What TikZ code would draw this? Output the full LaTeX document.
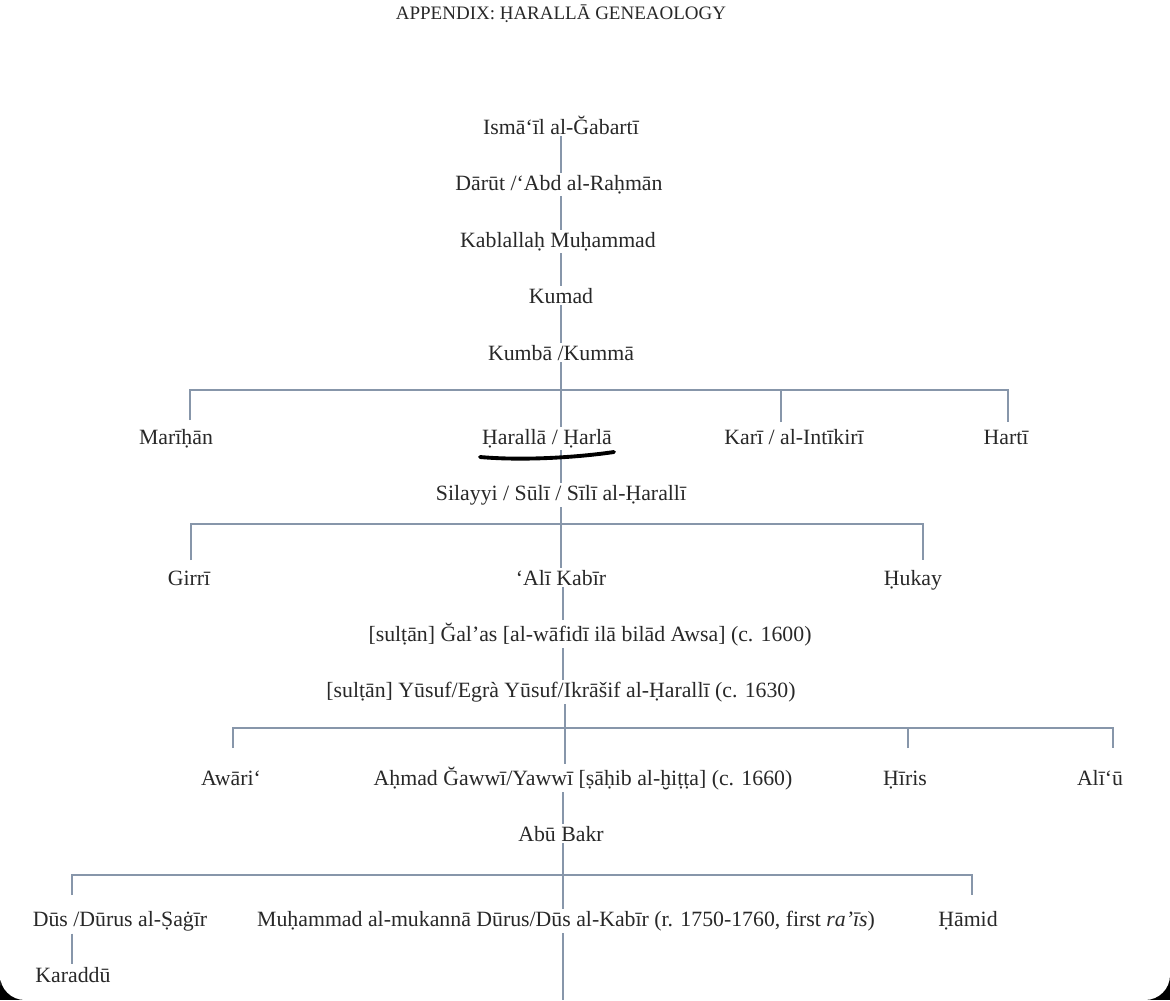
\documentclass[tikz,border=0pt]{standalone}
\usepackage{fontspec}
\setmainfont{Liberation Serif}
\usetikzlibrary{backgrounds}
\definecolor{linec}{RGB}{135,150,170}
\definecolor{txt}{RGB}{40,40,40}
\begin{document}
\begin{tikzpicture}[x=0.01cm,y=-0.01cm,
  conn/.style={draw=linec, line width=0.4pt},
  person/.style={anchor=base, inner sep=0.6pt, fill=white, text=txt, font=\fontsize{6.2}{7}\selectfont},
  titlestyle/.style={anchor=base, inner sep=0pt, text=txt, font=\fontsize{5.4}{7}\selectfont},
  pen/.style={draw=black, line width=1.1pt, line cap=round}]
\useasboundingbox (0,0) rectangle (1170,1000);

\node[titlestyle] (title) at (561,19) {APPENDIX: ḤARALLĀ GENEAOLOGY};

% people (y = baseline)
\node[person] (ismail) at (561,134) {Ismā‘īl al-Ğabartī};
\node[person] (darut)  at (559,190) {Dārūt /‘Abd al-Raḥmān};
\node[person] (kabl)   at (558,247) {Kablallaḥ Muḥammad};
\node[person] (kumad)  at (561,303) {Kumad};
\node[person] (kumba)  at (561,360) {Kumbā /Kummā};

\node[person] (mari)   at (176,444) {Marīḥān};
\node[person] (haral)  at (547,444) {Ḥarallā / Ḥarlā};
\node[person] (kari)   at (794,444) {Karī / al-Intīkirī};
\node[person] (harti)  at (1006,444) {Hartī};

\node[person] (sil)    at (561,500) {Silayyi / Sūlī / Sīlī al-Ḥarallī};

\node[person] (girri)  at (189,585) {Girrī};
\node[person] (ali)    at (561,585) {‘Alī Kabīr};
\node[person] (hukay)  at (913,585) {Ḥukay};

\node[person] (galas)  at (590,641) {[sulṭān] Ğal’as [al-wāfidī ilā bilād Awsa] (c. 1600)};
\node[person] (yusuf)  at (561,697) {[sulṭān] Yūsuf/Egrà Yūsuf/Ikrāšif al-Ḥarallī (c. 1630)};

\node[person] (awari)  at (231,785) {Awāri‘};
\node[person] (ahmad)  at (583,785) {Aḥmad Ğawwī/Yawwī [ṣāḥib al-ḫiṭṭa] (c. 1660)};
\node[person] (hiris)  at (905,785) {Ḥīris};
\node[person] (aliu)   at (1100,785) {Alī‘ū};

\node[person] (abu)    at (561,841) {Abū Bakr};

\node[person] (dus)    at (120,926) {Dūs /Dūrus al-Ṣaġīr};
\node[person] (muh)    at (566,926) {Muḥammad al-mukannā Dūrus/Dūs al-Kabīr (r. 1750-1760, first \textit{ra’īs})};
\node[person] (hamid)  at (968,926) {Ḥāmid};

\node[person] (kar)    at (73,982) {Karaddū};

% spine x positions and bar points
\coordinate (spa) at (561,0);
\coordinate (spb) at (563,0);
\coordinate (spc) at (565,0);
\coordinate (kx)  at (72,0);
\coordinate (bottom) at (563,1000);
\coordinate (bar1) at (561,390);
\coordinate (bar2) at (561,524);
\coordinate (bar3) at (565,728);
\coordinate (bar4) at (563,875);
\coordinate (d1a) at (190,420);
\coordinate (d1b) at (781,422);
\coordinate (d1c) at (1008,422);
\coordinate (d2a) at (191,560);
\coordinate (d2b) at (923,560);
\coordinate (d3a) at (233,748);
\coordinate (d3b) at (908,748);
\coordinate (d3c) at (1113,748);
\coordinate (d4a) at (72,895);
\coordinate (d4b) at (972,895);

\begin{scope}[on background layer]
  \fill[black] (0,0) rectangle (1170,1000);
  \fill[white] (0,1000) [sharp corners] -- (0,0) -- (1170,0) [rounded corners=0.25cm] -- (1170,1000) -- (0,1000) -- cycle;
  % spine
  \draw[conn] (ismail.center -| spa) -- (darut.center -| spa) -- (kabl.center -| spa)
     -- (kumad.center -| spa) -- (kumba.center -| spa) -- (haral.center -| spa)
     -- (sil.center -| spa) -- (ali.center -| spa);
  \draw[conn] (ali.center -| spb) -- (galas.center -| spb) -- (yusuf.center -| spb);
  \draw[conn] (yusuf.center -| spc) -- (ahmad.center -| spc);
  \draw[conn] (ahmad.center -| spb) -- (abu.center -| spb) -- (muh.center -| spb) -- (bottom);
  % sibling bars
  \draw[conn] (d1a) |- (bar1) -| (d1c);
  \draw[conn] (d1b) -- (d1b |- bar1);
  \draw[conn] (d2a) |- (bar2) -| (d2b);
  \draw[conn] (d3a) |- (bar3) -| (d3c);
  \draw[conn] (d3b) -- (d3b |- bar3);
  \draw[conn] (d4a) |- (bar4) -| (d4b);
  % Dūs to Karaddū
  \draw[conn] (dus.south -| kx) -- (kar.north -| kx);
\end{scope}

% hand-drawn underline
\draw[pen] (480,457) .. controls (525,461) and (580,457) .. (614,452);
\end{tikzpicture}
\end{document}
